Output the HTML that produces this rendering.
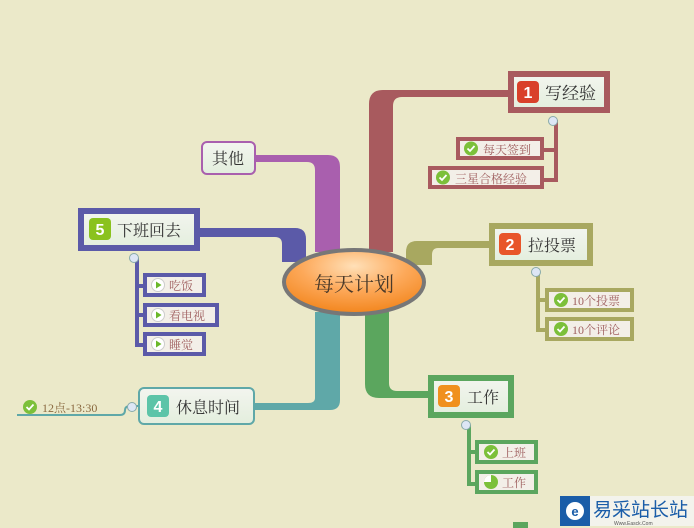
<!DOCTYPE html>
<html><head><meta charset="utf-8"><style>
html,body{margin:0;padding:0;background:#ebe9c9;}
svg{display:block}
text{font-family:"Liberation Sans","Noto Sans CJK SC",sans-serif;}
text.s{font-family:"Liberation Serif","Noto Serif CJK SC",serif;}
</style></head><body>
<svg width="694" height="528" viewBox="0 0 694 528" xmlns="http://www.w3.org/2000/svg">
<defs>
<radialGradient id="og" cx="50%" cy="25%" r="75%">
<stop offset="0" stop-color="#ffe0b8"/><stop offset="0.5" stop-color="#fda95a"/><stop offset="1" stop-color="#f2851c"/></radialGradient>
<linearGradient id="nf" x1="0" y1="0" x2="0" y2="1"><stop offset="0" stop-color="#f3f5ef"/><stop offset="1" stop-color="#e3eedd"/></linearGradient>
<g id="ck"><circle r="7" fill="#7cc03a"/><path d="M-3.5,0 L-1,2.5 L3.5,-2.5" stroke="#fff" stroke-width="1.8" fill="none"/></g>
<g id="pl"><circle r="6.5" fill="#fff" stroke="#ccc"/><path d="M-2,-3.5 L3.5,0 L-2,3.5Z" fill="#6bb82a"/></g>
</defs>
<rect width="694" height="528" fill="#ebe9c9"/>
<path d="M369,252 V104 Q369,90 383,90 H512 V97 H402 Q393,97 393,106 V252 Z" fill="#a85a5e"/>
<path d="M255,155 H328 Q340,155 340,167 V252 H315 V170 Q315,162 307,162 H255Z" fill="#a95fae"/>
<path d="M198,228 H295 Q306,228 306,239 V262 H282 V244 Q282,237 275,237 H198 Z" fill="#5b5aa8"/>
<path d="M406,265 V252 Q406,241 417,241 H492 V248 H438 Q432,248 432,255 V265 Z" fill="#a8a860"/>
<path d="M315,312 V398 Q315,403 308,403 H254 V410 H330 Q340,410 340,400 V312 Z" fill="#5fa8a8"/>
<path d="M365,312 V384 Q365,398 379,398 H430 V391 H397 Q389,391 389,383 V312 Z" fill="#5ba65e"/>
<ellipse cx="354" cy="282" rx="70" ry="32" fill="url(#og)" stroke="#777" stroke-width="4"/>
<text x="354" y="291" font-size="20" text-anchor="middle" fill="#4a3a2a" class="s">每天计划</text>

<rect x="511" y="74" width="96" height="36" fill="url(#nf)" stroke="#a85a5e" stroke-width="6"/>
<rect x="517" y="81" width="22" height="22" rx="4" fill="#d9402a"/>
<text x="528" y="98" font-size="16" font-weight="bold" fill="#fff" text-anchor="middle">1</text>
<text x="545" y="99" font-size="17" fill="#333" class="s">写经验</text>
<path d="M556,120 V180 H544 M556,150 H544" stroke="#a85a5e" stroke-width="4" fill="none"/>
<circle cx="553" cy="121" r="4.5" fill="#dde6f5" stroke="#8aa" stroke-width="1"/>
<rect x="458" y="139" width="84" height="19" fill="#f3efe8" stroke="#a85a5e" stroke-width="4"/>
<use href="#ck" x="471" y="148.5"/><text x="483" y="154" font-size="12" fill="#a06060" class="s">每天签到</text>
<rect x="430" y="168" width="112" height="19" fill="#f3efe8" stroke="#a85a5e" stroke-width="4"/>
<use href="#ck" x="443" y="177.5"/><text x="455" y="183" font-size="12" fill="#a06060" class="s">三星合格经验</text>

<rect x="202" y="142" width="53" height="32" rx="5" fill="url(#nf)" stroke="#a95fae" stroke-width="2"/>
<text x="228" y="164" font-size="16" fill="#333" text-anchor="middle" class="s">其他</text>

<rect x="81" y="211" width="116" height="37" fill="url(#nf)" stroke="#5b5aa8" stroke-width="6"/>
<rect x="89" y="218" width="22" height="22" rx="4" fill="#8ac21e"/>
<text x="100" y="235" font-size="16" font-weight="bold" fill="#fff" text-anchor="middle">5</text>
<text x="117" y="236" font-size="16" fill="#333" class="s">下班回去</text>
<path d="M137,258 V345 H145 M137,286 H145 M137,315 H145" stroke="#5b5aa8" stroke-width="4" fill="none"/>
<circle cx="134" cy="258" r="4.5" fill="#dde6f5" stroke="#8aa" stroke-width="1"/>
<rect x="145" y="275" width="59" height="20" fill="#f3efe8" stroke="#5b5aa8" stroke-width="4"/>
<use href="#pl" x="158" y="285"/><text x="169" y="290" font-size="12" fill="#a06060" class="s">吃饭</text>
<rect x="145" y="305" width="72" height="20" fill="#f3efe8" stroke="#5b5aa8" stroke-width="4"/>
<use href="#pl" x="158" y="315"/><text x="169" y="320" font-size="12" fill="#a06060" class="s">看电视</text>
<rect x="145" y="334" width="59" height="20" fill="#f3efe8" stroke="#5b5aa8" stroke-width="4"/>
<use href="#pl" x="158" y="344"/><text x="169" y="349" font-size="12" fill="#a06060" class="s">睡觉</text>

<rect x="492" y="226" width="98" height="37" fill="url(#nf)" stroke="#a8a860" stroke-width="6"/>
<rect x="499" y="233" width="22" height="22" rx="4" fill="#e8552a"/>
<text x="510" y="250" font-size="16" font-weight="bold" fill="#fff" text-anchor="middle">2</text>
<text x="528" y="251" font-size="16" fill="#333" class="s">拉投票</text>
<path d="M538,272 V330 H547 M538,300 H547" stroke="#a8a860" stroke-width="4" fill="none"/>
<circle cx="536" cy="272" r="4.5" fill="#dde6f5" stroke="#8aa" stroke-width="1"/>
<rect x="547" y="290" width="85" height="20" fill="#f3efe8" stroke="#a8a860" stroke-width="4"/>
<use href="#ck" x="561" y="300"/><text x="572" y="305" font-size="12" fill="#a06060" class="s">10个投票</text>
<rect x="547" y="319" width="85" height="20" fill="#f3efe8" stroke="#a8a860" stroke-width="4"/>
<use href="#ck" x="561" y="329"/><text x="572" y="334" font-size="12" fill="#a06060" class="s">10个评论</text>

<rect x="139" y="388" width="115" height="36" rx="5" fill="url(#nf)" stroke="#5fa8a8" stroke-width="2"/>
<rect x="147" y="395" width="22" height="22" rx="4" fill="#5cc4a8"/>
<text x="158" y="412" font-size="16" font-weight="bold" fill="#fff" text-anchor="middle">4</text>
<text x="176" y="413" font-size="16" fill="#333" class="s">休息时间</text>
<path d="M17,415 H120 Q125,415 125,410 Q125,406 131,406 H138" stroke="#5fa8a8" stroke-width="2" fill="none"/>
<circle cx="132" cy="407" r="4.5" fill="#dde6f5" stroke="#8aa" stroke-width="1"/>
<use href="#ck" x="30" y="407"/><text x="42" y="412" font-size="12" fill="#8a6a40" class="s">12点-13:30</text>

<rect x="431" y="378" width="80" height="37" fill="url(#nf)" stroke="#5ba65e" stroke-width="6"/>
<rect x="438" y="385" width="22" height="22" rx="4" fill="#f0901e"/>
<text x="449" y="402" font-size="16" font-weight="bold" fill="#fff" text-anchor="middle">3</text>
<text x="467" y="403" font-size="16" fill="#333" class="s">工作</text>
<path d="M469,425 V484 H477 M469,452 H477" stroke="#5ba65e" stroke-width="4" fill="none"/>
<circle cx="466" cy="425" r="4.5" fill="#dde6f5" stroke="#8aa" stroke-width="1"/>
<rect x="477" y="442" width="59" height="20" fill="#f3efe8" stroke="#5ba65e" stroke-width="4"/>
<use href="#ck" x="491" y="452"/><text x="502" y="457" font-size="12" fill="#a06060" class="s">上班</text>
<rect x="477" y="472" width="59" height="20" fill="#f3efe8" stroke="#5ba65e" stroke-width="4"/>
<circle cx="491" cy="482" r="7" fill="#7cc03a"/><path d="M491,482 V475 A7,7 0 0 0 484,482Z" fill="#fff"/><text x="502" y="487" font-size="12" fill="#a06060" class="s">工作</text>
<rect x="513" y="522" width="15" height="6" fill="#5ba65e"/>

<rect x="560" y="496" width="30" height="30" fill="#1a5da8"/>
<circle cx="575" cy="511" r="9" fill="#fff"/><text x="575" y="516" font-size="13" font-weight="bold" fill="#1a5da8" text-anchor="middle">e</text>
<rect x="590" y="496" width="104" height="30" fill="#f3f3ec"/>
<text x="593" y="516" font-size="19" fill="#1a5da8">易采站长站</text>
<text x="614" y="525" font-size="5" fill="#555">Www.Easck.Com</text>
</svg>
</body></html>
